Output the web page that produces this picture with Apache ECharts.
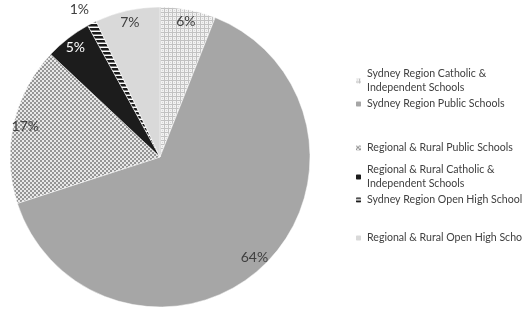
<!DOCTYPE html>
<html>
<head>
    <meta charset="UTF-8">
    <title></title>
    <script type="text/javascript" src="https://cdn.jsdelivr.net/npm/echarts@6/dist/echarts.min.js"></script>
    <style type="text/css">
        html, body { margin: 0; padding: 0; background: #fff; }
        #pie_chart { width: 522px; height: 310px; }
    </style>
</head>
<body>
<div id="pie_chart"></div>

<script type="text/javascript">
    var categories = [
        'Sydney Region Catholic &\nIndependent Schools',
        'Sydney Region Public Schools',
        'Regional & Rural Public Schools',
        'Regional & Rural Catholic &\nIndependent Schools',
        'Sydney Region Open High School',
        'Regional & Rural Open High School'
    ];
    var values = [6, 64, 17, 5, 1, 7];
    var legendTops = [67, 97, 141, 163, 193, 231];

    // small canvas tiles to fake the print-style hatching
    function tile(w, h, draw) {
        var c = document.createElement('canvas');
        c.width = w; c.height = h;
        var ctx = c.getContext('2d');
        draw(ctx);
        return { image: c, repeat: 'repeat' };
    }
    var fills = [
        tile(4, 4, function (ctx) {          // light grid
            ctx.fillStyle = '#f2f2f2'; ctx.fillRect(0, 0, 4, 4);
            ctx.fillStyle = '#c2c2c2'; ctx.fillRect(0, 0, 4, 1); ctx.fillRect(0, 0, 1, 4);
            ctx.fillStyle = '#d6d6d6'; ctx.fillRect(2, 2, 1, 1);
        }),
        '#a6a6a6',
        tile(4, 4, function (ctx) {          // checker
            ctx.fillStyle = '#e8e8e8'; ctx.fillRect(0, 0, 4, 4);
            ctx.fillStyle = '#959595'; ctx.fillRect(0, 0, 2, 2); ctx.fillRect(2, 2, 2, 2);
        }),
        '#1c1c1c',
        tile(4, 4, function (ctx) {          // stripes
            ctx.fillStyle = '#ffffff'; ctx.fillRect(0, 0, 4, 4);
            ctx.fillStyle = '#1c1c1c'; ctx.fillRect(0, 0, 4, 2);
            ctx.fillStyle = '#888888'; ctx.fillRect(0, 2, 4, 1);
        }),
        '#d9d9d9'
    ];

    var chart = echarts.init(document.getElementById('pie_chart'));

    var pieData = [], labelData = [];
    for (var i = 0; i < categories.length; i++) {
        pieData.push({ name: categories[i], value: values[i], itemStyle: { color: fills[i] } });
        var lab = { name: categories[i], value: values[i] };
        if (i === 3) lab.label = { color: '#ffffff' };
        if (i === 4) lab.label = { offset: [-18, -25] };
        labelData.push(lab);
    }

    var legends = [];
    for (var j = 0; j < categories.length; j++) {
        legends.push({
            data: [categories[j]],
            orient: 'vertical',
            left: 354,
            top: legendTops[j],
            padding: 0,
            itemWidth: 7,
            itemHeight: 7,
            itemGap: 0,
            selectedMode: false,
            textStyle: { fontFamily: 'Lato', fontSize: 10.6, color: '#404040', lineHeight: 14 }
        });
    }

    chart.setOption({
        animation: false,
        legend: legends,
        series: [
            {
                name: 'schools',
                type: 'pie',
                center: [160, 157],
                radius: [0, 150],
                startAngle: 90,
                clockwise: true,
                data: pieData,
                label: { show: false },
                labelLine: { show: false },
                itemStyle: { borderColor: '#ffffff', borderWidth: 0.5 },
                emphasis: { disabled: true }
            },
            {
                name: 'labels',
                type: 'pie',
                center: [160, 157],
                radius: [120, 150],
                startAngle: 90,
                clockwise: true,
                silent: true,
                data: labelData,
                itemStyle: { color: 'rgba(0,0,0,0)' },
                label: {
                    show: true,
                    position: 'inside',
                    formatter: '{c}%',
                    fontFamily: 'Lato',
                    fontSize: 14,
                    color: '#404040'
                },
                labelLine: { show: false },
                emphasis: { disabled: true }
            }
        ]
    });
</script>

</body>
</html>
